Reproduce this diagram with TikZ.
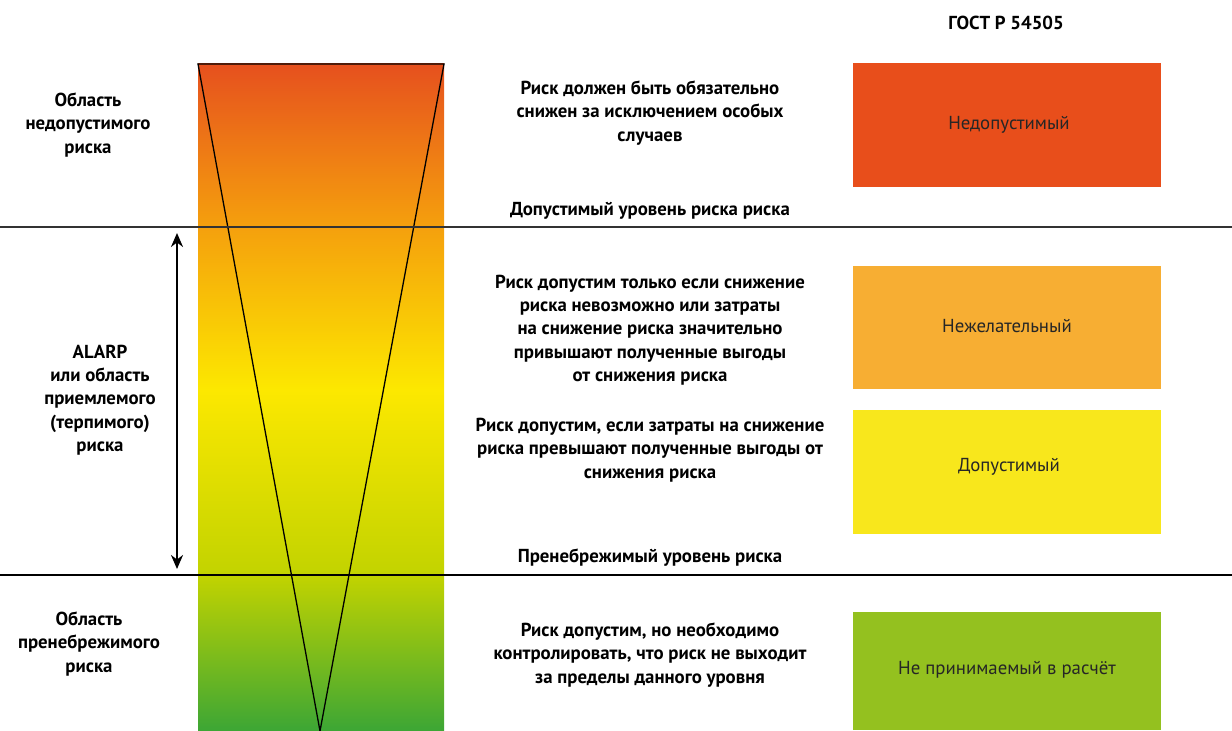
\documentclass[tikz,border=0pt]{standalone}
\usepackage{fontspec}
\setmainfont{PT Sans}
\usetikzlibrary{arrows.meta}
\definecolor{gA}{HTML}{3CA635}
\definecolor{gB}{HTML}{C2D300}
\definecolor{gC}{HTML}{FCE800}
\definecolor{gD}{HTML}{F5A00D}
\definecolor{gE}{HTML}{E6501E}
\definecolor{boxA}{HTML}{E84E1B}
\definecolor{boxB}{HTML}{F7AE33}
\definecolor{boxC}{HTML}{F8E71C}
\definecolor{boxD}{HTML}{94C11F}
\pgfdeclareverticalshading{riskgrad}{100bp}{color(0bp)=(gA); color(25bp)=(gA); color(36.68bp)=(gB); color(50.52bp)=(gC); color(62.72bp)=(gD); color(75bp)=(gE); color(100bp)=(gE)}
\tikzset{
  lbl/.style={align=center, font=\fontsize{18.8}{23.3}\selectfont\bfseries, inner sep=0pt},
  boxtxt/.style={font=\fontsize{18.8}{20}\selectfont, text=black!85},
  level/.style={line width=2.2pt},
  tri/.style={line width=1.3pt, black},
}
\begin{document}
\begin{tikzpicture}[x=1pt,y=-1pt]
\useasboundingbox (0,0) rectangle (1232,731);
% gradient bar
\shade[shading=riskgrad] (198,63) rectangle (444,731);
% triangle
\coordinate (tl) at (198,64);
\coordinate (tr) at (444,64);
\coordinate (tb) at (320,731);
\draw[tri, line join=miter] (tb) -- (tl) -- (tr) -- cycle;
% level lines
\coordinate (l1a) at (0,227);
\coordinate (l1b) at (1232,227);
\coordinate (l2a) at (0,575);
\coordinate (l2b) at (1232,575);
\draw[level, black!80] (l1a) -- (l1b);
\draw[level] (l2a) -- (l2b);
% ALARP arrow
\coordinate (aa) at (177,233);
\coordinate (ab) at (177,569);
\draw[line width=2.2pt, {Stealth[length=14pt,width=12pt]}-{Stealth[length=14pt,width=12pt]}] (aa) -- (ab);
% title
\node[lbl] (title) at (1006,23) {ГОСТ Р 54505};
% left labels
\node[lbl] (left1) at (88,125) {Область\\недопустимого\\риска};
\node[lbl] (left2) at (100,400) {ALARP\\или область\\приемлемого\\(терпимого)\\риска};
\node[lbl] (left3) at (89,644) {Область\\пренебрежимого\\риска};
% middle texts
\node[lbl] (mid1) at (650,113) {Риск должен быть обязательно\\снижен за исключением особых\\случаев};
\node[lbl] (lev1) at (650,211) {Допустимый уровень риска риска};
\node[lbl] (mid2) at (650,330) {Риск допустим только если снижение\\риска невозможно или затраты\\на снижение риска значительно\\привышают полученные выгоды\\от снижения риска};
\node[lbl] (mid3) at (650,450) {Риск допустим, если затраты на снижение\\риска превышают полученные выгоды от\\снижения риска};
\node[lbl] (lev2) at (650,558) {Пренебрежимый уровень риска};
\node[lbl] (mid4) at (650,655) {Риск допустим, но необходимо\\контролировать, что риск не выходит\\за пределы данного уровня};
% right boxes
\fill[boxA] (853,63) rectangle (1161,187);
\node[boxtxt] (b1) at (1009,125) {Недопустимый};
\fill[boxB] (853,266) rectangle (1161,389);
\node[boxtxt] (b2) at (1007,326) {Нежелательный};
\fill[boxC] (853,410) rectangle (1161,534);
\node[boxtxt] (b3) at (1009,467) {Допустимый};
\fill[boxD] (853,612) rectangle (1161,730);
\node[boxtxt] (b4) at (1007,670) {Не принимаемый в расчёт};
\end{tikzpicture}
\end{document}
